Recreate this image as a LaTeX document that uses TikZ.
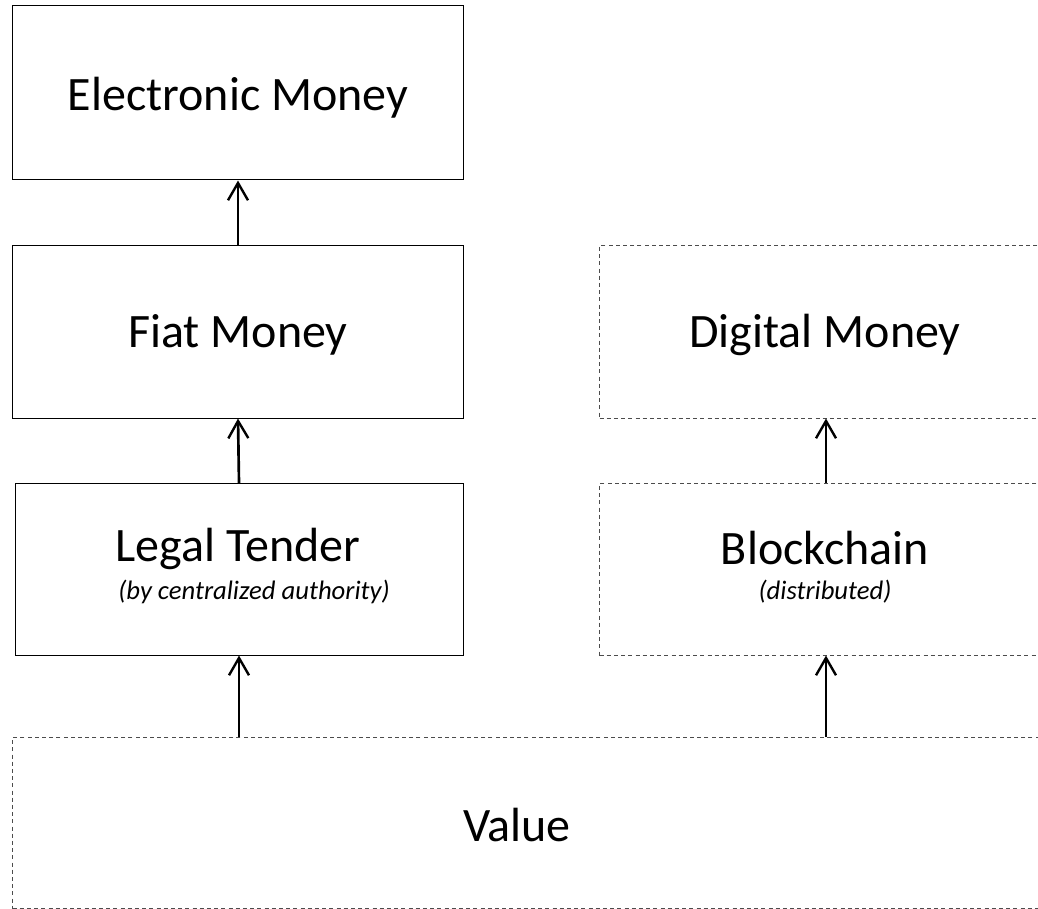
\documentclass[tikz,border=0pt]{standalone}
\usepackage{fontspec}
\setmainfont{Carlito}
\usetikzlibrary{arrows.meta}
\tikzset{
  solidbox/.style={draw=black, line width=0.9pt},
  dashbox/.style={draw=black!70, line width=0.8pt, dash pattern=on 3pt off 2.4pt},
  title/.style={font=\fontsize{36}{40}\selectfont, inner sep=0pt},
  subtitle/.style={font=\fontsize{20}{24}\selectfont\itshape, inner sep=0pt},
  uparrow/.style={line width=2pt, -{Straight Barb[length=13pt, width=15pt, line width=1.8pt]}, shorten >=0.4pt},
}
\begin{document}
\begin{tikzpicture}[x=0.75pt, y=-0.75pt]
  \useasboundingbox (0,0) rectangle (1038,909);
  \clip (0,0) rectangle (1038,909);

  % left column: solid boxes
  \node[solidbox, minimum width=451*0.75pt, minimum height=174*0.75pt, anchor=north west, inner sep=0pt] (em) at (12,5) {};
  \node[solidbox, minimum width=451*0.75pt, minimum height=173*0.75pt, anchor=north west, inner sep=0pt] (fm) at (12,245) {};
  \node[solidbox, minimum width=448*0.75pt, minimum height=172*0.75pt, anchor=north west, inner sep=0pt] (lt) at (15,483) {};

  % right column and base: dashed boxes running off the right edge
  \node[dashbox, minimum width=460*0.75pt, minimum height=173*0.75pt, anchor=north west, inner sep=0pt] (dm) at (599,245) {};
  \node[dashbox, minimum width=460*0.75pt, minimum height=172*0.75pt, anchor=north west, inner sep=0pt] (bc) at (599,483) {};
  \node[dashbox, minimum width=1040*0.75pt, minimum height=171*0.75pt, anchor=north west, inner sep=0pt] (val) at (12,737) {};

  % labels
  \node[title] (tem) at (238,98) {Electronic Money};
  \node[title] (tfm) at (238,335) {Fiat Money};
  \node[title] (tlt) at (238,549) {Legal Tender};
  \node[subtitle] (slt) at (254,592) {(by centralized authority)};
  \node[title] (tdm) at (825,335) {Digital Money};
  \node[title] (tbc) at (825,548) {Blockchain};
  \node[subtitle] (sbc) at (825,592) {(distributed)};
  \node[title] (tval) at (517,825) {Value};

  % connectors
  \coordinate (a1) at (238,245); \coordinate (a1t) at (238,180);
  \coordinate (a2) at (239,483); \coordinate (a2t) at (238,418);
  \coordinate (a3) at (239,737); \coordinate (a3t) at (239,655);
  \coordinate (b1) at (826,483); \coordinate (b1t) at (826,418);
  \coordinate (b2) at (826,737); \coordinate (b2t) at (826,655);
  \draw[uparrow] (a1) -- (a1t);
  \draw[uparrow] (a2) -- (a2t);
  \draw[uparrow] (a3) -- (a3t);
  \draw[uparrow] (b1) -- (b1t);
  \draw[uparrow] (b2) -- (b2t);
\end{tikzpicture}
\end{document}
